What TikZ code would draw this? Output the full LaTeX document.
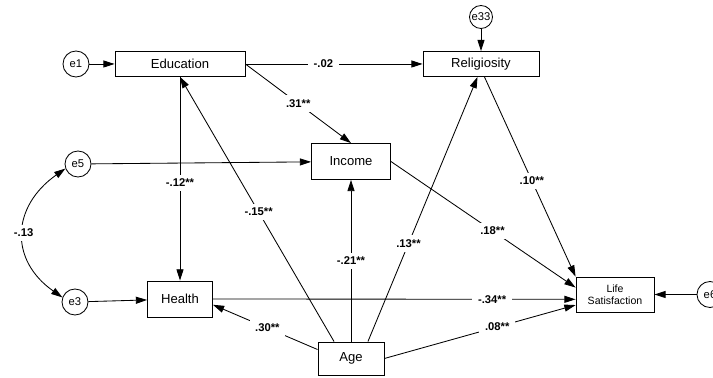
\documentclass[tikz,border=0pt]{standalone}
\usepackage{fontspec}
\setmainfont{Liberation Sans}
\usetikzlibrary{arrows.meta}
\begin{document}
\begin{tikzpicture}
[boxdecorate/.style={shape=rectangle,draw,line width=0.6pt,inner sep=0pt,align=center,font=\fontsize{9.3}{11}\selectfont},%
  errdecorate/.style={shape=circle,draw,line width=0.6pt,inner sep=0pt,font=\fontsize{8}{9}\selectfont},%
  linedecorate/.style={-{Triangle[length=8pt,width=5pt]},line width=0.6pt},%
  labeldecorate/.style={fill=white,inner xsep=4pt,inner ysep=3pt,font=\fontsize{8}{9}\selectfont\bfseries}]
\useasboundingbox (0,0) rectangle (17.825,9.45);
%% observed variables
\foreach \nodename/\x/\y/\w/\h in {Education/4.5/7.85/3.25/0.625,
  Religiosity/12.025/7.85/2.9/0.625, Income/8.775/5.4125/1.975/0.9,
  Health/4.5/1.975/1.625/0.9, Age/8.775/0.4875/1.65/0.825} {
  \node (\nodename) at (\x,\y) [boxdecorate,minimum width=\w cm,minimum height=\h cm] {\nodename};
}
\node (LifeSat) at (15.375,2.0875) [boxdecorate,minimum width=1.95cm,minimum height=0.875cm,
  font=\fontsize{7.5}{8.8}\selectfont] {Life\\Satisfaction};
%% error terms
\foreach \nodename/\x/\y/\s in {e1/1.9/7.85/0.65, e5/1.95/5.35/0.65, e3/1.875/1.9/0.65,
  e33/12.025/9.025/0.575, e6/17.75/2.0875/0.65} {
  \node (\nodename) at (\x,\y) [errdecorate,minimum size=\s cm] {\nodename};
}
%% paths with coefficients
\path
\foreach \startnode/\endnode/\p/\lbl in {Education.east/Religiosity.west/0.44/-.02,
  Education.east/Income.north/0.5/.31**, Education.south/Health.north/0.52/-.12**,
  Age.135/Education.south/0.49/-.15**, Age.north/Income.south/0.5/-.21**,
  Age.45/Religiosity.255/0.37/.13**, Religiosity.285/LifeSat.north west/0.52/.10**,
  Income.east/LifeSat.170/0.55/.18**, Health.east/LifeSat.187/0.77/-.34**,
  Age.east/LifeSat.195/0.59/.08**, Age.165/Health.350/0.48/.30**} {
  (\startnode) edge[linedecorate] node[labeldecorate,pos=\p] {\lbl} (\endnode)
};
%% error paths
\path
\foreach \startnode/\endnode in {e1/Education, e5/Income, e3/Health,
  e33/Religiosity, e6/LifeSat} {
  (\startnode) edge[linedecorate] (\endnode)
};
%% covariance
\draw[{Triangle[length=8pt,width=5pt]}-{Triangle[length=8pt,width=5pt]},line width=0.6pt]
  (e5.200) to[out=215,in=145,looseness=1.3] node[labeldecorate] {-.13} (e3.160);
\end{tikzpicture}
\end{document}
